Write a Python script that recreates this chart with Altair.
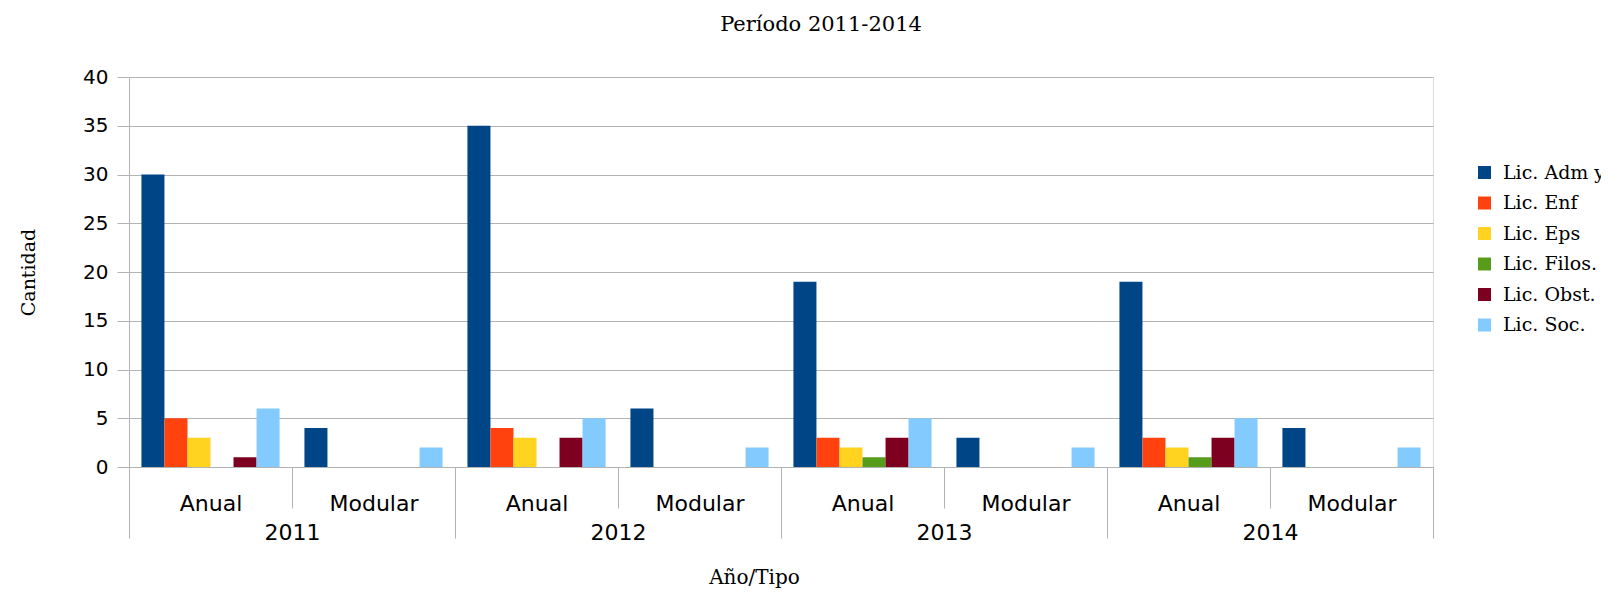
import altair as alt
import pandas as pd

years = ["2011", "2012", "2013", "2014"]
types = ["Anual", "Modular"]
series = ["Lic. Adm y", "Lic. Enf", "Lic. Eps", "Lic. Filos.", "Lic. Obst.", "Lic. Soc."]
colors = ["#004586", "#ff420e", "#ffd320", "#579d1c", "#7e0021", "#83caff"]

# values per series, one per group: 2011 Anual, 2011 Modular, 2012 Anual, ...
adm = [30, 4, 35, 6, 19, 3, 19, 4]
enf = [5, 0, 4, 0, 3, 0, 3, 0]
eps = [3, 0, 3, 0, 2, 0, 2, 0]
filos = [0, 0, 0, 0, 1, 0, 1, 0]
obst = [1, 0, 3, 0, 3, 0, 3, 0]
soc = [6, 2, 5, 2, 5, 2, 5, 2]

groups = [f"{y}|{t}" for y in years for t in types]
rows = []
for name, vals in zip(series, [adm, enf, eps, filos, obst, soc]):
    for g, v in zip(groups, vals):
        if v > 0:
            rows.append({"grp": g, "series": name, "value": v})
df = pd.DataFrame(rows)
ydf = pd.DataFrame({"year": years})

GRAY = "#b3b3b3"
SANS = "DejaVu Sans"
SERIF = "DejaVu Serif"

bars = alt.Chart(df).mark_bar().encode(
    x=alt.X("grp:N", sort=groups,
            scale=alt.Scale(domain=groups, paddingInner=0, paddingOuter=0),
            axis=alt.Axis(title=None, labelExpr="split(datum.label, '|')[1]",
                          tickBand="extent", tickSize=41, labelPadding=-15,
                          labelAngle=0, labelFont=SANS, labelFontSize=22,
                          labelColor="black", tickColor=GRAY, domainColor=GRAY,
                          grid=False)),
    xOffset=alt.XOffset("series:N", sort=series,
                        scale=alt.Scale(domain=series, paddingInner=0, paddingOuter=0.54)),
    y=alt.Y("value:Q", scale=alt.Scale(domain=[0, 40], nice=False),
            axis=alt.Axis(values=list(range(0, 41, 5)), title="Cantidad",
                          titleFont=SERIF, titleFontSize=19, titleFontWeight="normal",
                          titleColor="black", titlePadding=44,
                          labelFont=SANS, labelFontSize=20, labelColor="black",
                          tickSize=12, labelPadding=9, tickColor=GRAY,
                          domainColor=GRAY, gridColor=GRAY)),
    color=alt.Color("series:N", sort=series,
                    scale=alt.Scale(domain=series, range=colors),
                    legend=alt.Legend(title=None, orient="none", legendX=1346, legendY=86,
                                      symbolType="square", symbolSize=169,
                                      symbolStrokeWidth=0, labelFont=SERIF,
                                      labelFontSize=19, labelColor="black",
                                      rowPadding=10.5, labelOffset=9, padding=0,
                                      labelLimit=400)),
)

yearaxis = alt.Chart(ydf).mark_point(opacity=0).encode(
    x=alt.X("year:N", sort=years,
            scale=alt.Scale(domain=years, paddingInner=0, paddingOuter=0),
            axis=alt.Axis(orient="bottom", title="Año/Tipo", titleFont=SERIF,
                          titleFontSize=20, titleFontWeight="normal", titleColor="black",
                          titlePadding=24, titleX=625,
                          tickBand="extent", tickSize=71, labelPadding=-16,
                          labelAngle=0, labelFont=SANS, labelFontSize=22,
                          labelColor="black", tickColor=GRAY, domain=False, grid=False)),
)

chart = alt.layer(bars, yearaxis).resolve_scale(x="independent").properties(
    width=1304, height=390,
    autosize=alt.AutoSizeParams(type="none"),
    padding={"left": 121, "top": 69, "right": 168, "bottom": 121},
    title=alt.Title("Período 2011-2014", font=SERIF, fontSize=21, fontWeight="normal",
                    color="black", anchor="middle", dx=40, offset=32),
).configure_view(stroke=GRAY).configure(background="white")

chart.save("out.html", embed_options={"renderer": "svg", "actions": False})
